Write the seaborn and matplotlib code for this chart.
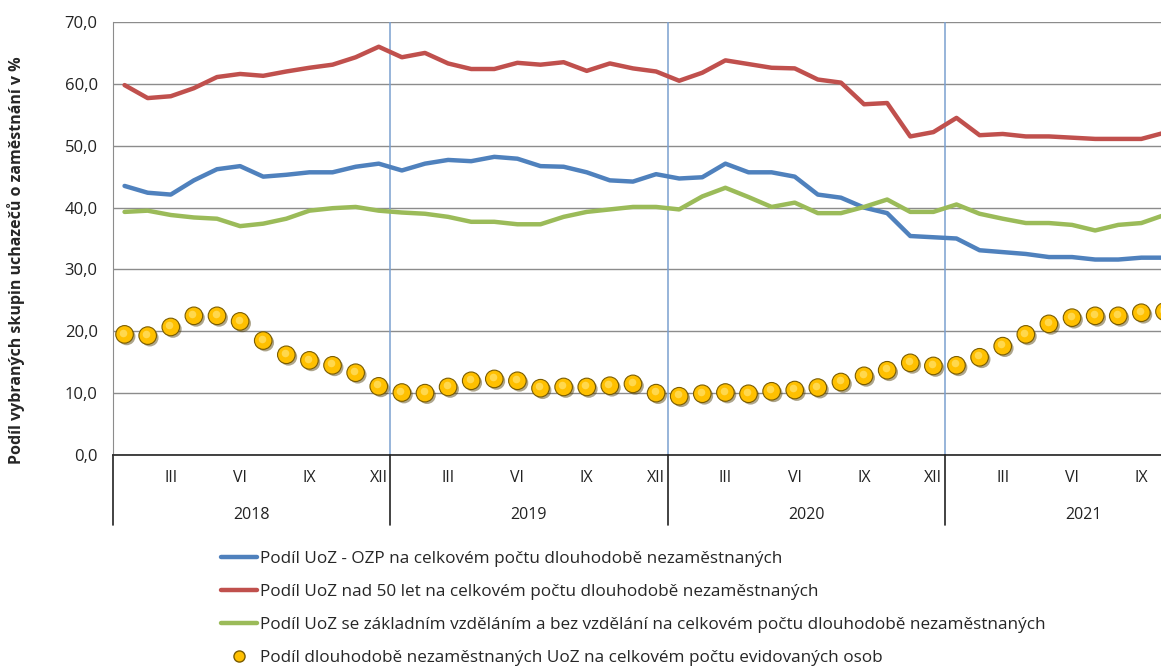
import numpy as np
import pandas as pd
import matplotlib
matplotlib.use("Agg")
import matplotlib.pyplot as plt
import matplotlib.patheffects as pe
import matplotlib.transforms as mtransforms
import seaborn as sns

years = ["2018", "2019", "2020", "2021"]
month_labels = {2: "III", 5: "VI", 8: "IX", 11: "XII"}

ozp = [43.5, 42.4, 42.1, 44.4, 46.2, 46.7, 45.0, 45.3, 45.7, 45.7, 46.6, 47.1,
       46.0, 47.1, 47.7, 47.5, 48.2, 47.9, 46.7, 46.6, 45.7, 44.4, 44.2, 45.4,
       44.7, 44.9, 47.1, 45.7, 45.7, 45.0, 42.1, 41.6, 40.0, 39.1, 35.4, 35.2,
       35.0, 33.1, 32.8, 32.5, 32.0, 32.0, 31.6, 31.6, 31.9, 31.9]
nad50 = [59.8, 57.7, 58.0, 59.3, 61.1, 61.6, 61.3, 62.0, 62.6, 63.1, 64.3, 66.0,
         64.3, 65.0, 63.3, 62.4, 62.4, 63.4, 63.1, 63.5, 62.1, 63.3, 62.5, 62.0,
         60.5, 61.8, 63.8, 63.2, 62.6, 62.5, 60.7, 60.2, 56.7, 56.9, 51.5, 52.2,
         54.5, 51.7, 51.9, 51.5, 51.5, 51.3, 51.1, 51.1, 51.1, 52.1]
zakl = [39.3, 39.5, 38.8, 38.4, 38.2, 37.0, 37.4, 38.2, 39.5, 39.9, 40.1, 39.5,
        39.2, 39.0, 38.5, 37.7, 37.7, 37.3, 37.3, 38.5, 39.3, 39.7, 40.1, 40.1,
        39.7, 41.8, 43.2, 41.7, 40.1, 40.8, 39.1, 39.1, 40.1, 41.3, 39.3, 39.3,
        40.5, 39.0, 38.2, 37.5, 37.5, 37.2, 36.3, 37.2, 37.5, 38.8]
dlouho = [19.5, 19.3, 20.7, 22.5, 22.5, 21.6, 18.5, 16.2, 15.3, 14.5, 13.3, 11.1,
          10.1, 10.0, 11.0, 12.0, 12.3, 12.0, 10.8, 11.0, 11.0, 11.2, 11.5, 10.0,
          9.5, 9.9, 10.1, 9.9, 10.3, 10.5, 10.9, 11.8, 12.8, 13.7, 14.9, 14.4,
          14.5, 15.8, 17.6, 19.5, 21.2, 22.2, 22.5, 22.5, 23.0, 23.2]

names = [
    "Podíl UoZ - OZP na celkovém počtu dlouhodobě nezaměstnaných",
    "Podíl UoZ nad 50 let na celkovém počtu dlouhodobě nezaměstnaných",
    "Podíl UoZ se základním vzděláním a bez vzdělání na celkovém počtu dlouhodobě nezaměstnaných",
    "Podíl dlouhodobě nezaměstnaných UoZ na celkovém počtu evidovaných osob",
]
colors = ["#4F81BD", "#C0504D", "#9BBB59"]

idx = np.arange(len(ozp))
lines = pd.DataFrame({"m": np.tile(idx, 3),
                      "val": ozp + nad50 + zakl,
                      "serie": np.repeat(names[:3], len(idx))})
dots = pd.DataFrame({"m": idx, "val": dlouho})

sns.set_style("white")
plt.rcParams["font.family"] = ["Open Sans", "DejaVu Sans"]

fig = plt.figure(figsize=(11.61, 6.68), dpi=100)
ax = fig.add_axes([113 / 1161, 1 - 455 / 668, 1 - 113 / 1161, (455 - 22) / 668])

# year separators inside plot
for b in [11.5, 23.5, 35.5]:
    ax.axvline(b, color="#7BA0D0", lw=1.1, zorder=1)

sns.lineplot(data=lines, x="m", y="val", hue="serie", palette=colors,
             linewidth=3.2, ax=ax, legend=False, zorder=3)
sns.scatterplot(data=dots, x="m", y="val", ax=ax, s=160, color="#FFC000",
                edgecolor="#7A5C00", linewidth=0.8, zorder=4,
                path_effects=[pe.SimplePatchShadow(offset=(1.5, -1.5), alpha=0.45),
                              pe.Normal()])
# soft highlight on the spheres
ax.scatter(dots["m"] - 0.06, dots["val"] + 0.3, s=30, color="#FFD84D",
           linewidth=0, zorder=5)

ax.set_xlim(-0.5, 44.85)
ax.set_ylim(0, 70)
ax.set_yticks(np.arange(0, 71, 10))
ax.set_yticklabels([f"{v:.1f}".replace(".", ",") for v in np.arange(0, 71, 10)],
                   fontsize=12, color="#222222")
ax.grid(axis="y", color="#8C8C8C", lw=1)
ax.set_axisbelow(True)
for s in ["top", "right"]:
    ax.spines[s].set_visible(False)
ax.spines["left"].set_color("#8C8C8C")
ax.spines["bottom"].set_color("#222222")
ax.spines["bottom"].set_linewidth(1.2)
ax.tick_params(axis="y", length=0, pad=11)

# two-level category axis
ticks = [y * 12 + m for y in range(4) for m in month_labels if y * 12 + m <= 44]
ax.set_xticks(ticks)
ax.set_xticklabels([month_labels[t % 12] for t in ticks], fontsize=11.5, color="#222222")
ax.tick_params(axis="x", length=0, pad=11)
ax.set_xlabel("")
ax.set_ylabel("Podíl vybraných skupin uchazečů o zaměstnání v %",
              fontsize=11.5, fontweight="bold")
ax.yaxis.set_label_coords(-0.084, 0.45)

trans = mtransforms.blended_transform_factory(ax.transData, ax.transAxes)
for b in [-0.5, 11.5, 23.5, 35.5]:
    ax.plot([b, b], [0, -70 / 433], transform=trans, color="#222222", lw=1.2,
            clip_on=False)
for i, y in enumerate(years):
    ax.text(i * 12 + 5.5, -60 / 433, y, transform=trans, ha="center", va="center",
            fontsize=11.5, color="#222222")

# legend
handles = [plt.Line2D([], [], color=c, lw=3.2) for c in colors]
handles.append(plt.Line2D([], [], ls="", marker="o", markersize=8,
                          markerfacecolor="#FFC000", markeredgecolor="#7A5C00"))
fig.legend(handles, names, loc="upper left", bbox_to_anchor=(214 / 1161, 1 - 544 / 668),
           frameon=False, fontsize=12.3, handlelength=2.1, handletextpad=0.2,
           labelspacing=1.0, borderaxespad=0)

fig.savefig("out.png", dpi=100)
